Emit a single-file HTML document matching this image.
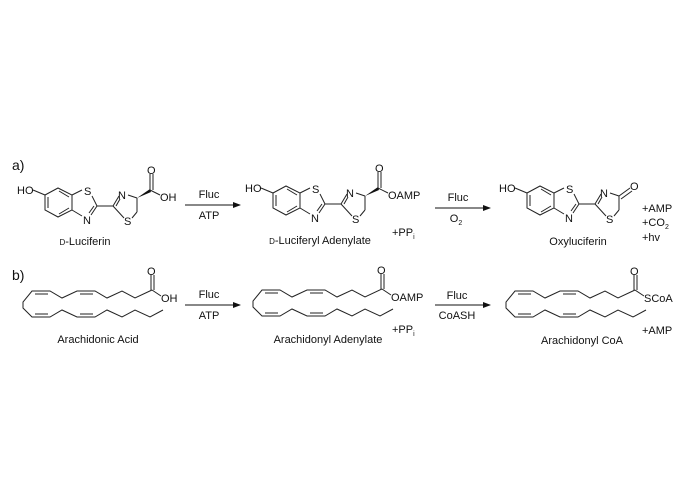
<!DOCTYPE html>
<html><head><style>
html,body{margin:0;padding:0;background:#fff;}
svg{display:block;}
text{font-family:"Liberation Sans",Arial,sans-serif;font-size:11px;fill:#111;}
</style></head><body>
<svg width="700" height="500" viewBox="0 0 700 500" xmlns="http://www.w3.org/2000/svg">
<defs>
<marker id="ah" markerWidth="8" markerHeight="6" refX="7" refY="3" orient="auto" markerUnits="userSpaceOnUse">
<path d="M0,0 L8,3 L0,6 Z" fill="#111"/></marker>
<g id="core" stroke="#222" stroke-width="1" fill="none">
<polygon points="45,195 58,188 72,195 72,210 58,217 45,210"/>
<line x1="48" y1="197" x2="48" y2="208"/>
<line x1="59" y1="191" x2="69" y2="197"/>
<line x1="59" y1="214" x2="69" y2="208"/>
<line x1="33" y1="190" x2="45" y2="195"/>
<line x1="72" y1="195" x2="82" y2="190"/>
<line x1="92" y1="196" x2="97" y2="206"/>
<line x1="72" y1="210" x2="82" y2="216"/>
<line x1="91" y1="215" x2="97" y2="206"/>
<line x1="89" y1="213" x2="94" y2="206"/>
<line x1="97" y1="206" x2="113" y2="206"/>
<line x1="113" y1="206" x2="119" y2="196"/>
<line x1="116" y1="206" x2="120" y2="199"/>
<line x1="128" y1="195" x2="137" y2="198"/>
<line x1="137" y1="198" x2="137" y2="212"/>
<line x1="137" y1="212" x2="132" y2="218"/>
<line x1="124" y1="218" x2="113" y2="206"/>
</g>
<g id="lucacid">
<use href="#core"/>
<polygon points="137,198 150,189 151,192" fill="#111"/>
<line x1="150" y1="190" x2="150" y2="174" stroke="#222"/>
<line x1="153" y1="190" x2="153" y2="174" stroke="#222"/>
<line x1="150" y1="190" x2="160" y2="195" stroke="#222"/>
</g>
<g id="chain" stroke="#222" stroke-width="1" fill="none">
<polyline points="152,290 135,298 122,291 107,298 95,291 77,291 62,298 50,291 32,291 23,302 23,308 32,317 50,317 62,310 77,317 95,317 107,310 122,317 135,310 150,317 163,310"/>
<line x1="35" y1="294" x2="48" y2="294"/>
<line x1="80" y1="294" x2="93" y2="294"/>
<line x1="35" y1="314" x2="48" y2="314"/>
<line x1="80" y1="314" x2="93" y2="314"/>
<line x1="151" y1="290" x2="151" y2="275"/>
<line x1="154" y1="290" x2="154" y2="275"/>
<line x1="152" y1="290" x2="161" y2="296"/>
</g>
</defs>

<text x="12" y="170" style="font-size:14px">a)</text>
<text x="12" y="280" style="font-size:14px">b)</text>

<!-- D-Luciferin -->
<g>
<use href="#lucacid"/>
<text x="17" y="194">HO</text>
<text x="84" y="195">S</text>
<text x="83" y="224">N</text>
<text x="118" y="199">N</text>
<text x="124" y="225">S</text>
<text x="147" y="174">O</text>
<text x="160" y="201">OH</text>
<text x="85" y="245" text-anchor="middle"><tspan style="font-size:8px">D</tspan>-Luciferin</text>
</g>

<!-- Adenylate -->
<g transform="translate(228,-2)">
<use href="#lucacid"/>
<text x="17" y="194">HO</text>
<text x="84" y="195">S</text>
<text x="83" y="224">N</text>
<text x="118" y="199">N</text>
<text x="124" y="225">S</text>
<text x="147" y="174">O</text>
<text x="160" y="201">OAMP</text>
</g>
<text x="320" y="244" text-anchor="middle"><tspan style="font-size:8px">D</tspan>-Luciferyl Adenylate</text>
<text x="392" y="236">+PP<tspan style="font-size:7px" dy="3">i</tspan></text>

<!-- Oxyluciferin -->
<g transform="translate(482,-2)">
<use href="#core"/>
<line x1="137" y1="198" x2="148" y2="190" stroke="#222"/>
<line x1="139" y1="201" x2="150" y2="193" stroke="#222"/>
<text x="17" y="194">HO</text>
<text x="84" y="195">S</text>
<text x="83" y="224">N</text>
<text x="118" y="199">N</text>
<text x="124" y="225">S</text>
<text x="148" y="192">O</text>
</g>
<text x="578" y="245" text-anchor="middle">Oxyluciferin</text>
<text x="642" y="212">+AMP</text>
<text x="642" y="226">+CO<tspan style="font-size:7px" dy="3">2</tspan></text>
<text x="642" y="241">+hv</text>

<!-- Arrows row a -->
<line x1="185" y1="205" x2="240" y2="205" stroke="#111" marker-end="url(#ah)"/>
<text x="209" y="198" text-anchor="middle">Fluc</text>
<text x="209" y="219" text-anchor="middle">ATP</text>
<line x1="435" y1="208" x2="490" y2="208" stroke="#111" marker-end="url(#ah)"/>
<text x="458" y="201" text-anchor="middle">Fluc</text>
<text x="456" y="222" text-anchor="middle">O<tspan style="font-size:7px" dy="3">2</tspan></text>

<!-- Row b -->
<use href="#chain"/>
<text x="147" y="275">O</text>
<text x="161" y="302">OH</text>
<text x="98" y="343" text-anchor="middle">Arachidonic Acid</text>

<g transform="translate(230,-1)">
<use href="#chain"/>
<text x="147" y="275">O</text>
<text x="161" y="302">OAMP</text>
</g>
<text x="328" y="343" text-anchor="middle">Arachidonyl Adenylate</text>
<text x="392" y="333">+PP<tspan style="font-size:7px" dy="3">i</tspan></text>

<g transform="translate(483,0)">
<use href="#chain"/>
<text x="147" y="275">O</text>
<text x="161" y="302">SCoA</text>
</g>
<text x="582" y="344" text-anchor="middle">Arachidonyl CoA</text>
<text x="642" y="334">+AMP</text>

<line x1="185" y1="305" x2="240" y2="305" stroke="#111" marker-end="url(#ah)"/>
<text x="209" y="298" text-anchor="middle">Fluc</text>
<text x="209" y="319" text-anchor="middle">ATP</text>
<line x1="435" y1="305" x2="490" y2="305" stroke="#111" marker-end="url(#ah)"/>
<text x="457" y="299" text-anchor="middle">Fluc</text>
<text x="457" y="319" text-anchor="middle">CoASH</text>
</svg>
</body></html>
